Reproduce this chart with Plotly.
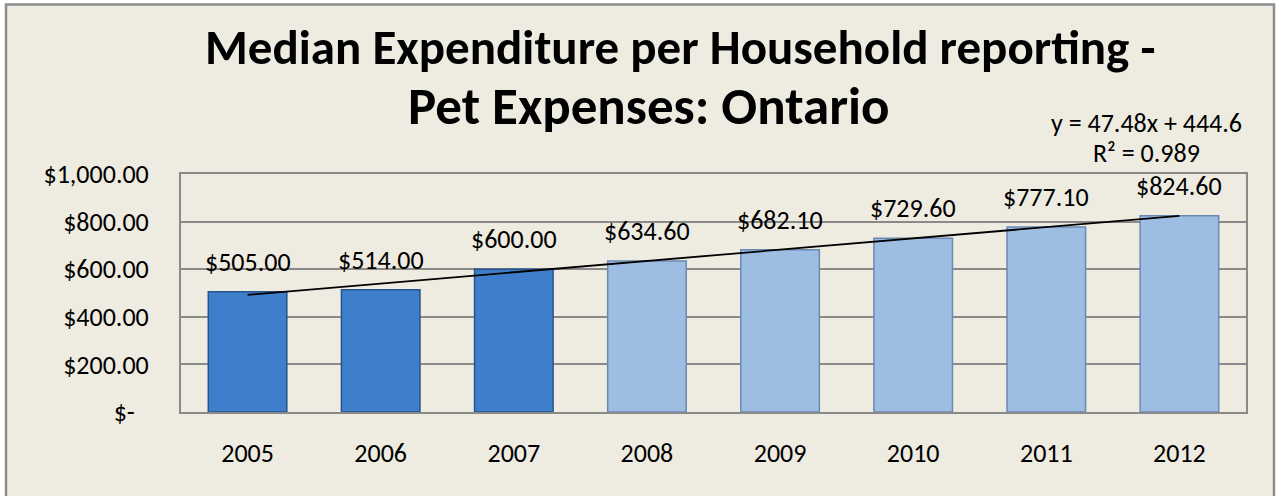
import numpy as np
import plotly.graph_objects as go

# Median pet expenditure per reporting household, Ontario
years = ["2005", "2006", "2007", "2008", "2009", "2010", "2011", "2012"]
median_spend = [505.00, 514.00, 600.00, 634.60, 682.10, 729.60, 777.10, 824.60]

# Linear trend fitted over the year index (1..8)
trend_slope = 47.48
trend_intercept = 444.6
trend_r2 = 0.989

y_tick_values = [0, 200, 400, 600, 800, 1000]
y_tick_labels = ["$-\u2007", "$200.00", "$400.00", "$600.00", "$800.00", "$1,000.00"]

title_lines = ["Median Expenditure per Household reporting -", "Pet Expenses: Ontario"]

# Styling: recorded years in a deep blue, later years in a pale blue
DARK_BLUE = "#3F7ECB"
DARK_EDGE = "#28548D"
PALE_BLUE = "#9DBDE3"
PALE_EDGE = "#6A89B2"
last_recorded_year = "2007"

FONT = "Carlito, Calibri, Lato, sans-serif"

idx = np.arange(1, len(years) + 1)
bar_fill = [DARK_BLUE if y <= last_recorded_year else PALE_BLUE for y in years]
bar_edge = [DARK_EDGE if y <= last_recorded_year else PALE_EDGE for y in years]

fig = go.Figure()

fig.add_trace(go.Bar(
    x=idx,
    y=median_spend,
    width=0.59,
    marker=dict(color=bar_fill, line=dict(color=bar_edge, width=1.5)),
    hoverinfo="skip",
    showlegend=False,
))

trend_y = trend_slope * idx + trend_intercept
fig.add_trace(go.Scatter(
    x=idx,
    y=trend_y,
    mode="lines",
    line=dict(color="black", width=1.8),
    hoverinfo="skip",
    showlegend=False,
))

# Value labels above each bar
for xi, v in zip(idx, median_spend):
    fig.add_annotation(
        x=xi, y=v, xref="x", yref="y",
        text=f"${v:,.2f}",
        showarrow=False,
        yanchor="bottom",
        yshift=12,
        font=dict(family=FONT, size=26, color="black"),
    )

# Trend equation, one line per annotation
eq_lines = [f"y = {trend_slope:.2f}x + {trend_intercept:.1f}", f"R² = {trend_r2:.3f}"]
for text, ypos in zip(eq_lines, [1.214, 1.087]):
    fig.add_annotation(
        x=0.907, y=ypos, xref="paper", yref="paper",
        text=text,
        showarrow=False,
        xanchor="center",
        yanchor="middle",
        font=dict(family=FONT, size=26, color="black"),
    )

# Two-line bold title
for text, xpos, ypos, size in zip(title_lines, [0.469, 0.439], [1.535, 1.287], [49, 53]):
    fig.add_annotation(
        x=xpos, y=ypos, xref="paper", yref="paper",
        text=f"<b>{text}</b>",
        showarrow=False,
        xanchor="center",
        yanchor="middle",
        font=dict(family=FONT, size=size, color="black"),
    )

# Chart frame
fig.add_shape(
    type="rect", xref="paper", yref="paper",
    x0=-0.1643, x1=1.0263, y0=-0.40, y1=1.712,
    fillcolor="#EEEBE1",
    line=dict(color="#8C8C8C", width=2.5),
    layer="below",
)

fig.update_layout(
    width=1280,
    height=496,
    margin=dict(l=181, r=34, t=174, b=84),
    paper_bgcolor="white",
    plot_bgcolor="white",
    bargap=0.41,
    xaxis=dict(
        range=[0.5, len(years) + 0.5],
        tickvals=idx,
        ticktext=years,
        showgrid=False,
        zeroline=False,
        showline=True,
        linecolor="#8A8A8A",
        linewidth=2,
        mirror=True,
        ticks="",
        ticklabelstandoff=17,
        tickfont=dict(family=FONT, size=26, color="black"),
    ),
    yaxis=dict(
        range=[0, 1000],
        tickvals=y_tick_values,
        ticktext=y_tick_labels,
        showgrid=True,
        gridcolor="#8A8A8A",
        gridwidth=1.6,
        zeroline=False,
        showline=True,
        linecolor="#8A8A8A",
        linewidth=2,
        mirror=True,
        ticks="",
        ticklabelstandoff=25,
        tickfont=dict(family=FONT, size=26, color="black"),
    ),
)

fig.write_html("out.html")
